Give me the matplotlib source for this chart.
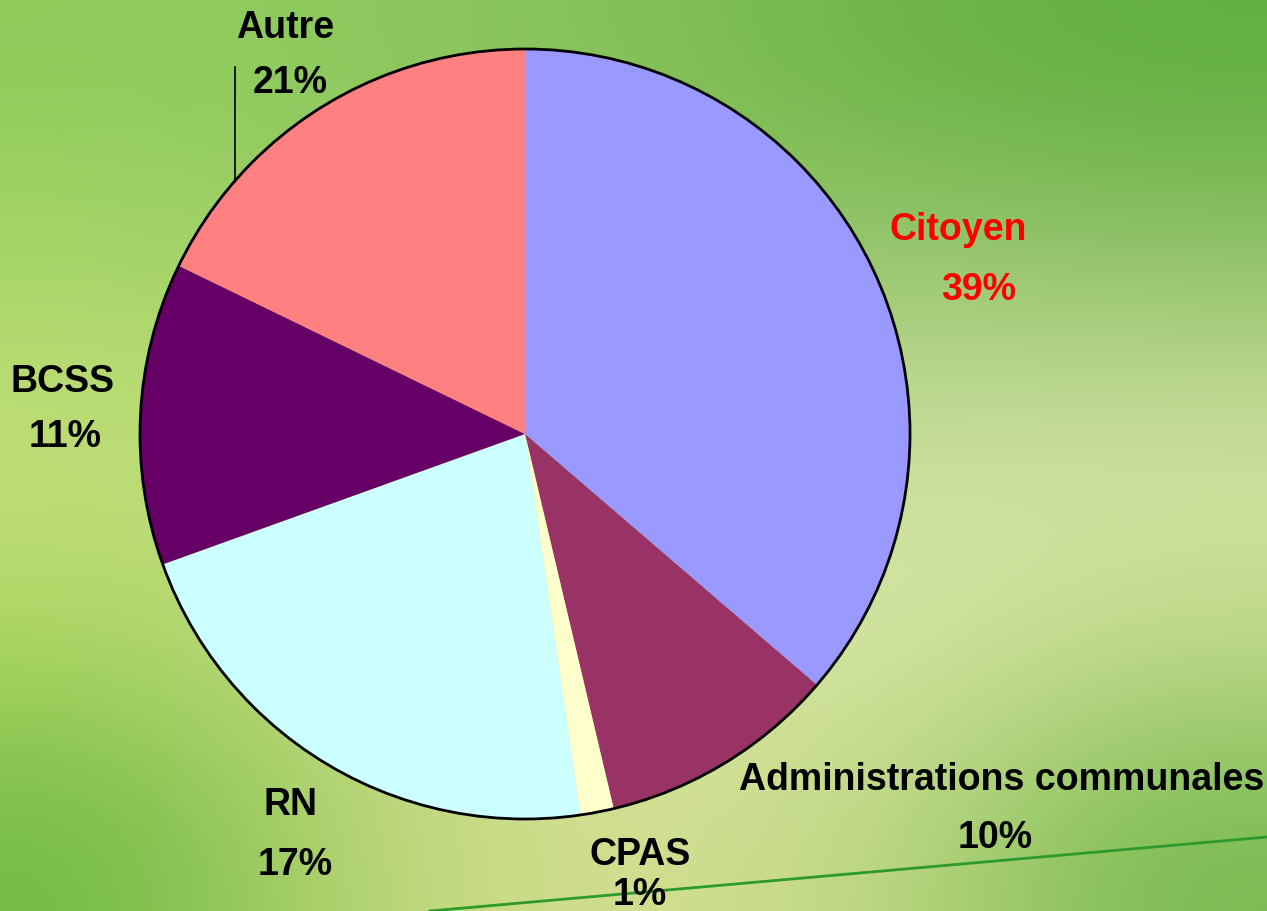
import matplotlib.pyplot as plt
import numpy as np
from matplotlib.patches import Circle

# wedge sizes as drawn (percent of the circle)
categories = ["Citoyen", "Administrations communales", "CPAS", "RN", "BCSS", "Autre"]
shares = [36.3, 10.0, 1.4, 21.8, 12.7, 17.8]
# percentages printed next to each wedge
pct_labels = ["39%", "10%", "1%", "17%", "11%", "21%"]
colors = ["#9999FF", "#993366", "#FFFFCC", "#CCFFFF", "#660066", "#FF8080"]

W, H = 1267, 912
fig = plt.figure(figsize=(W / 100, H / 100), dpi=100)

# green slide background
bg = fig.add_axes([0, 0, 1, 1])
grid = np.array([
    [(143, 204, 90), (140, 200, 95), (132, 194, 88), (110, 180, 70), (98, 176, 64)],
    [(170, 215, 105), (160, 205, 110), (150, 200, 105), (160, 202, 120), (150, 195, 110)],
    [(196, 224, 122), (185, 215, 125), (195, 218, 145), (205, 225, 160), (212, 228, 164)],
    [(175, 215, 100), (200, 222, 140), (215, 228, 160), (216, 232, 168), (195, 218, 140)],
    [(114, 187, 68), (190, 215, 120), (215, 225, 150), (190, 215, 130), (120, 186, 80)],
]) / 255.0
bg.imshow(grid, extent=(0, W, H, 0), interpolation="bicubic", aspect="auto")
bg.set_xlim(0, W)
bg.set_ylim(H, 0)
bg.axis("off")

ax = fig.add_axes([0, 0, 1, 1])
cx, cy, r = 525, H - 435, 385
ax.pie(shares, colors=colors, startangle=90, counterclock=False,
       center=(cx, cy), radius=r, wedgeprops=dict(linewidth=0), frame=True)
ax.add_patch(Circle((cx, cy), r, fill=False, edgecolor="black", linewidth=2))
ax.set_xlim(0, W)
ax.set_ylim(0, H)
ax.set_aspect("equal")
ax.axis("off")

font = dict(family=["Liberation Sans", "DejaVu Sans"], fontweight="bold",
            fontsize=27, ha="center", va="center")
# (name position, pct position) in pixels from top-left
label_pos = [
    ((958, 230), (979, 290)),
    ((1002, 780), (995, 838)),
    ((640, 855), (640, 895)),
    ((290, 805), (295, 865)),
    ((63, 382), (65, 437)),
    ((285, 28), (290, 83)),
]
for name, pct, (p1, p2) in zip(categories, pct_labels, label_pos):
    col = "#FF0000" if name == "Citoyen" else "black"
    ax.text(p1[0], H - p1[1], name, color=col, **font)
    ax.text(p2[0], H - p2[1], pct, color=col, **font)

# leader line for Autre
ax.plot([235, 235], [H - 68, H - 183], color="black", linewidth=1.2)
# decorative slide line
ax.plot([430, W], [H - 912, H - 838], color="#2e9a2e", linewidth=2)

fig.savefig("out.png", dpi=100)
